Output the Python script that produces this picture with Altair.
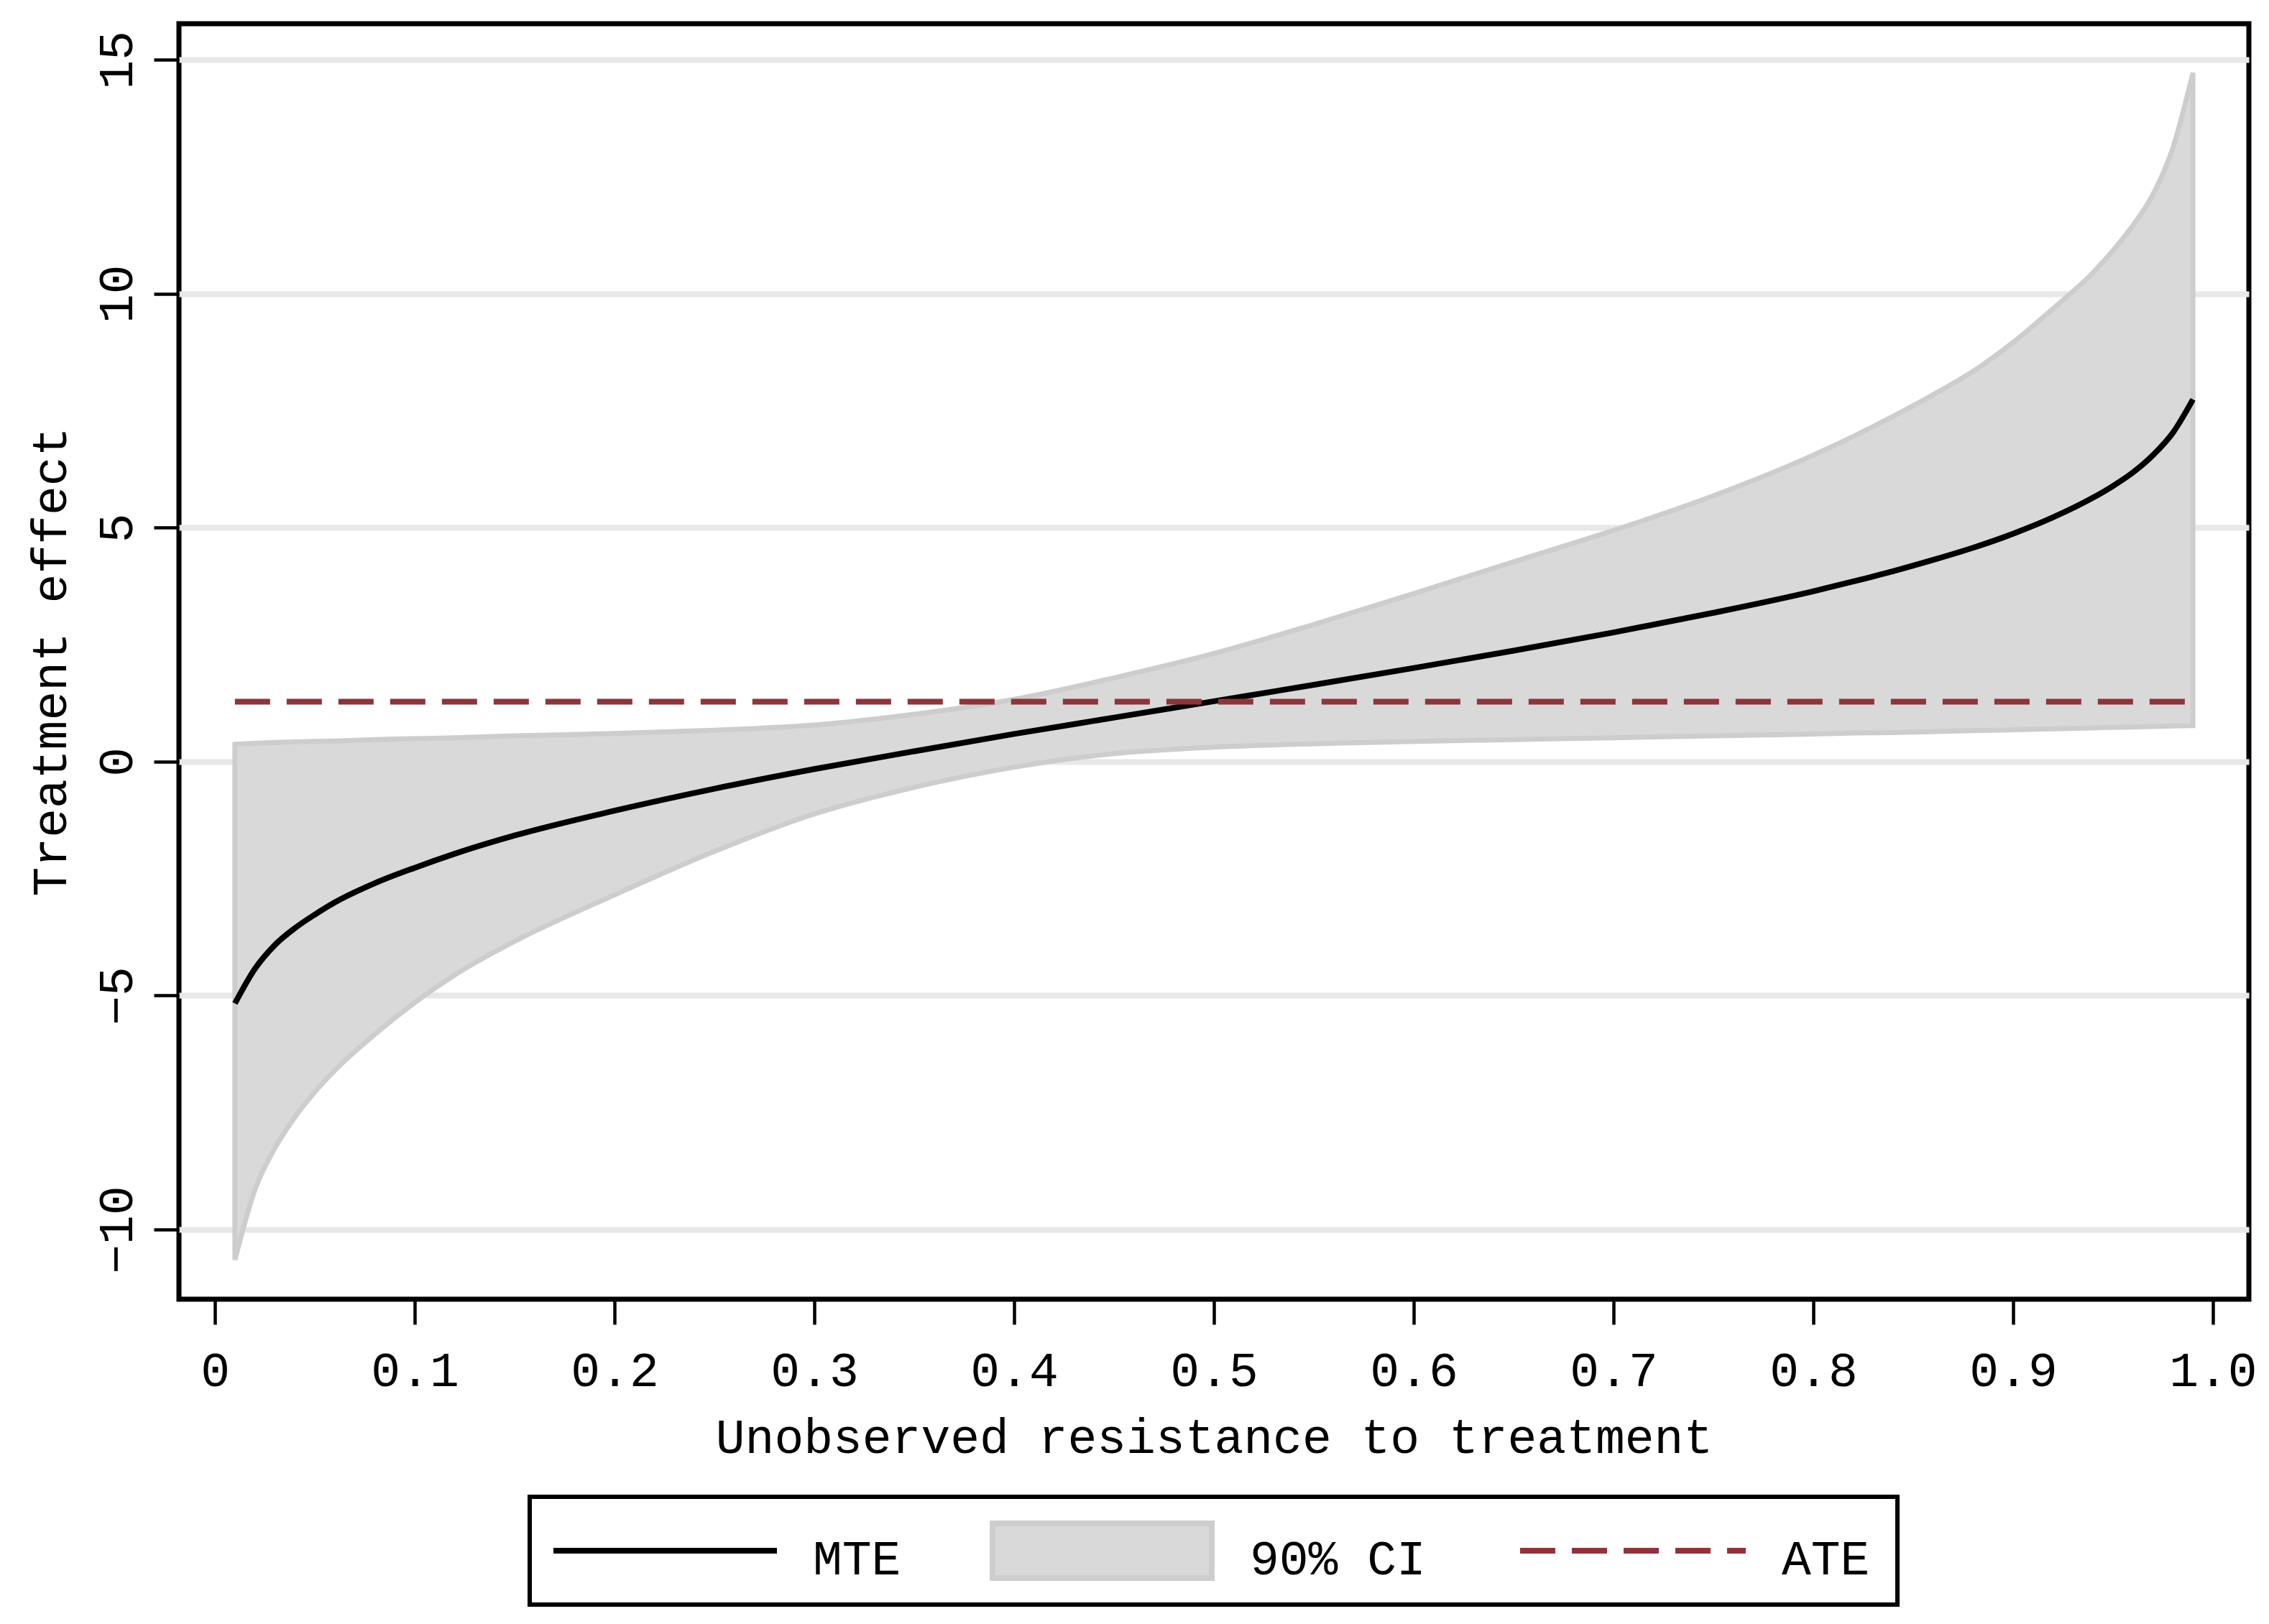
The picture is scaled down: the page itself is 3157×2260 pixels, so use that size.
import altair as alt
import pandas as pd

# ---------------- data ----------------
u = [0.01, 0.02, 0.03, 0.04, 0.05, 0.06, 0.08, 0.10, 0.12, 0.15, 0.20, 0.25,
     0.30, 0.35, 0.40, 0.45, 0.50, 0.55, 0.60, 0.65, 0.70, 0.75, 0.80, 0.82,
     0.84, 0.86, 0.88, 0.90, 0.92, 0.94, 0.95, 0.96, 0.97, 0.98, 0.99]
mte = [-5.17, -4.43, -3.92, -3.56, -3.27, -3.01, -2.60, -2.27, -1.97, -1.58,
       -1.05, -0.58, -0.16, 0.22, 0.59, 0.94, 1.29, 1.64, 2.00, 2.37, 2.76,
       3.18, 3.64, 3.85, 4.07, 4.31, 4.57, 4.87, 5.22, 5.64, 5.89, 6.18, 6.55,
       7.03, 7.74]
ci_hi = [0.37, 0.39, 0.41, 0.42, 0.43, 0.44, 0.47, 0.49, 0.51, 0.55, 0.60,
         0.67, 0.78, 1.01, 1.33, 1.79, 2.31, 2.93, 3.59, 4.27, 4.94, 5.68,
         6.55, 6.95, 7.38, 7.84, 8.34, 8.96, 9.68, 10.45, 10.92, 11.46, 12.12,
         13.12, 14.72]
ci_lo = [-10.65, -9.15, -8.26, -7.60, -7.06, -6.60, -5.83, -5.15, -4.56, -3.84,
         -2.85, -1.92, -1.12, -0.55, -0.12, 0.17, 0.31, 0.38, 0.43, 0.47, 0.51,
         0.55, 0.59, 0.61, 0.62, 0.64, 0.66, 0.68, 0.70, 0.72, 0.73, 0.74, 0.75,
         0.76, 0.77]
ate = 1.28

x_ticks = [0, 0.1, 0.2, 0.3, 0.4, 0.5, 0.6, 0.7, 0.8, 0.9, 1.0]
y_ticks = [-10, -5, 0, 5, 10, 15]
legend_labels = ["MTE", "90% CI", "ATE"]
x_title = "Unobserved resistance to treatment"
y_title = "Treatment effect"

# ---------------- styling / layout ----------------
FONT = "Liberation Mono"
FS = 68
W, H = 2880, 1775
GRAY_FILL = "#d9d9d9"
GRAY_EDGE = "#cdcdcd"
RED = "#8f343b"
DASH = [49, 23]
LW = 8

df = pd.DataFrame({"u": u, "mte": mte, "lo": ci_lo, "hi": ci_hi})
df_ate = pd.DataFrame({"u": [u[0], u[-1]], "ate": [ate, ate]})
one = pd.DataFrame({"k": [0]})

xs = alt.Scale(domain=[-0.018, 1.018], nice=False, zero=False)
ys = alt.Scale(domain=[-11.49, 15.77], nice=False, zero=False)

x_axis = alt.Axis(
    values=x_ticks,
    labelExpr="datum.value == 0 ? '0' : format(datum.value, '.1f')",
    title=x_title, grid=False, domain=False,
    ticks=True, tickColor="black", tickWidth=4.5, tickSize=35,
    labelFont=FONT, labelFontSize=FS, labelColor="black",
    labelBaseline="alphabetic", labelPadding=85, labelFlush=False,
    labelOverlap=False, labelBound=False, labelLimit=0,
    titleFont=FONT, titleFontSize=FS, titleFontWeight="normal",
    titleColor="black", titleX=W / 2, titleY=213,
    titleAlign="center", titleBaseline="alphabetic",
)
y_axis = alt.Axis(
    values=y_ticks, format="d", title=y_title,
    grid=True, gridColor="#e8e8e8", gridWidth=8,
    domain=False, ticks=True, tickColor="black", tickWidth=4.5, tickSize=35,
    labelFont=FONT, labelFontSize=FS, labelColor="black",
    labelAngle=270, labelAlign="center", labelBaseline="alphabetic",
    labelPadding=31, labelFlush=False, labelOverlap=False, labelBound=False,
    labelLimit=0,
    titleFont=FONT, titleFontSize=FS, titleFontWeight="normal",
    titleColor="black", titleAngle=270, titleX=-158, titleY=H / 2,
    titleAlign="center", titleBaseline="alphabetic",
)

band = alt.Chart(df).mark_area(
    fill=GRAY_FILL, stroke=GRAY_EDGE, strokeWidth=7, interpolate="monotone"
).encode(
    x=alt.X("u:Q", scale=xs, axis=x_axis),
    y=alt.Y("lo:Q", scale=ys, axis=y_axis),
    y2="hi:Q",
)
line = alt.Chart(df).mark_line(
    color="black", strokeWidth=LW, interpolate="monotone"
).encode(x=alt.X("u:Q", scale=xs), y=alt.Y("mte:Q", scale=ys))
ate_line = alt.Chart(df_ate).mark_line(
    color=RED, strokeWidth=LW, strokeDash=DASH
).encode(x=alt.X("u:Q", scale=xs), y=alt.Y("ate:Q", scale=ys))

# ---------------- legend (drawn below the plot) ----------------
LY = 2125
box = alt.Chart(one).mark_rect(fill="white", stroke="black", strokeWidth=6).encode(
    x=alt.value(488), x2=alt.value(2391), y=alt.value(2050), y2=alt.value(2200)
)
leg_mte = alt.Chart(one).mark_rule(color="black", strokeWidth=LW).encode(
    x=alt.value(521), x2=alt.value(832), y=alt.value(LY)
)
leg_ci = alt.Chart(one).mark_rect(fill=GRAY_FILL, stroke=GRAY_EDGE, strokeWidth=8).encode(
    x=alt.value(1132), x2=alt.value(1437), y=alt.value(2087), y2=alt.value(2163)
)
leg_ate = alt.Chart(one).mark_rule(color=RED, strokeWidth=LW, strokeDash=DASH).encode(
    x=alt.value(1866), x2=alt.value(2180), y=alt.value(LY)
)
text_x = [882, 1490, 2230]
leg_texts = [
    alt.Chart(one).mark_text(
        font=FONT, fontSize=FS, color="black", align="left", baseline="alphabetic"
    ).encode(x=alt.value(tx), y=alt.value(2158), text=alt.value(lab))
    for tx, lab in zip(text_x, legend_labels)
]

chart = alt.layer(band, line, ate_line, box, leg_mte, leg_ci, leg_ate, *leg_texts).properties(
    width=W, height=H,
    autosize=alt.AutoSizeParams(type="none"),
    padding={"left": 241, "top": 25, "right": 20, "bottom": 444},
    background="white",
).configure_view(stroke="black", strokeWidth=7)

chart.save("out.html", embed_options={"renderer": "svg", "actions": False})
